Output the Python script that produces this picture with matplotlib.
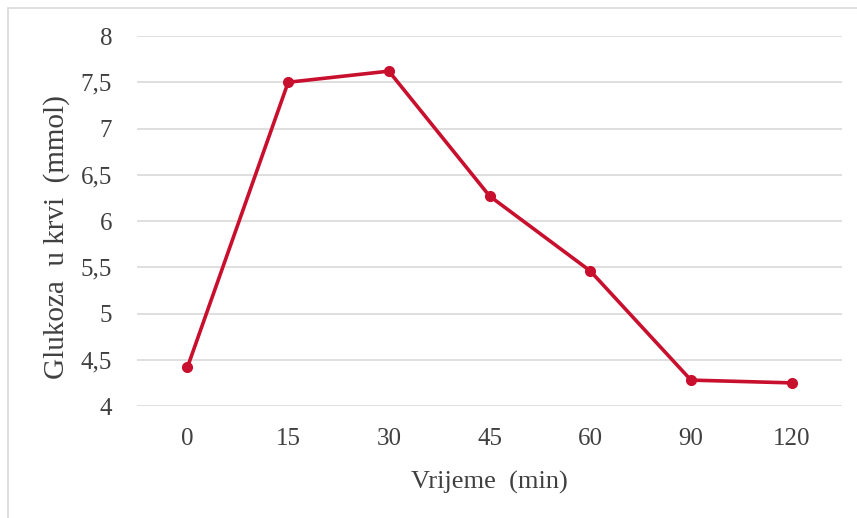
import matplotlib.pyplot as plt
from matplotlib.patches import Rectangle

vrijeme = ["0", "15", "30", "45", "60", "90", "120"]
glukoza = [4.42, 7.50, 7.62, 6.27, 5.46, 4.28, 4.25]
y_ticks = [4, 4.5, 5, 5.5, 6, 6.5, 7, 7.5, 8]
y_labels = ["4", "4,5", "5", "5,5", "6", "6,5", "7", "7,5", "8"]

plt.rcParams['font.family'] = ['Liberation Serif', 'DejaVu Serif']

fig = plt.figure(figsize=(8.57, 5.18), dpi=100)
ax = fig.add_axes([0.160, 0.2162, 0.8225, 0.7143])

# okvir oko grafa
fig.patches.append(Rectangle((8 / 857, -0.01), 1.0, 1 - 8 / 518 + 0.01, transform=fig.transFigure,
                             fill=False, edgecolor="#d9d9d9", linewidth=1.2))

x = list(range(len(vrijeme)))
ax.plot(x, glukoza, color="#c8102e", linewidth=2.6, marker="o", markersize=7)

ax.set_xlim(-0.5, len(vrijeme) - 0.5)
ax.set_ylim(4, 8)
ax.set_xticks(x)
ax.set_xticklabels(vrijeme)
ax.set_yticks(y_ticks)
ax.set_yticklabels(y_labels)
ax.grid(axis="y", color="#d9d9d9", linewidth=1.2)
ax.set_axisbelow(True)
for s in ax.spines.values():
    s.set_visible(False)
ax.tick_params(length=0, labelsize=18, colors="#404040", pad=16)
ax.tick_params(axis="y", pad=18)

ax.set_xlabel("Vrijeme  (min)", fontsize=19, color="#404040", labelpad=15)
ax.set_ylabel("Glukoza  u krvi  (mmol)", fontsize=21, color="#404040")
ax.yaxis.set_label_coords(-0.095, 0.457)

fig.savefig("out.png", dpi=100)
